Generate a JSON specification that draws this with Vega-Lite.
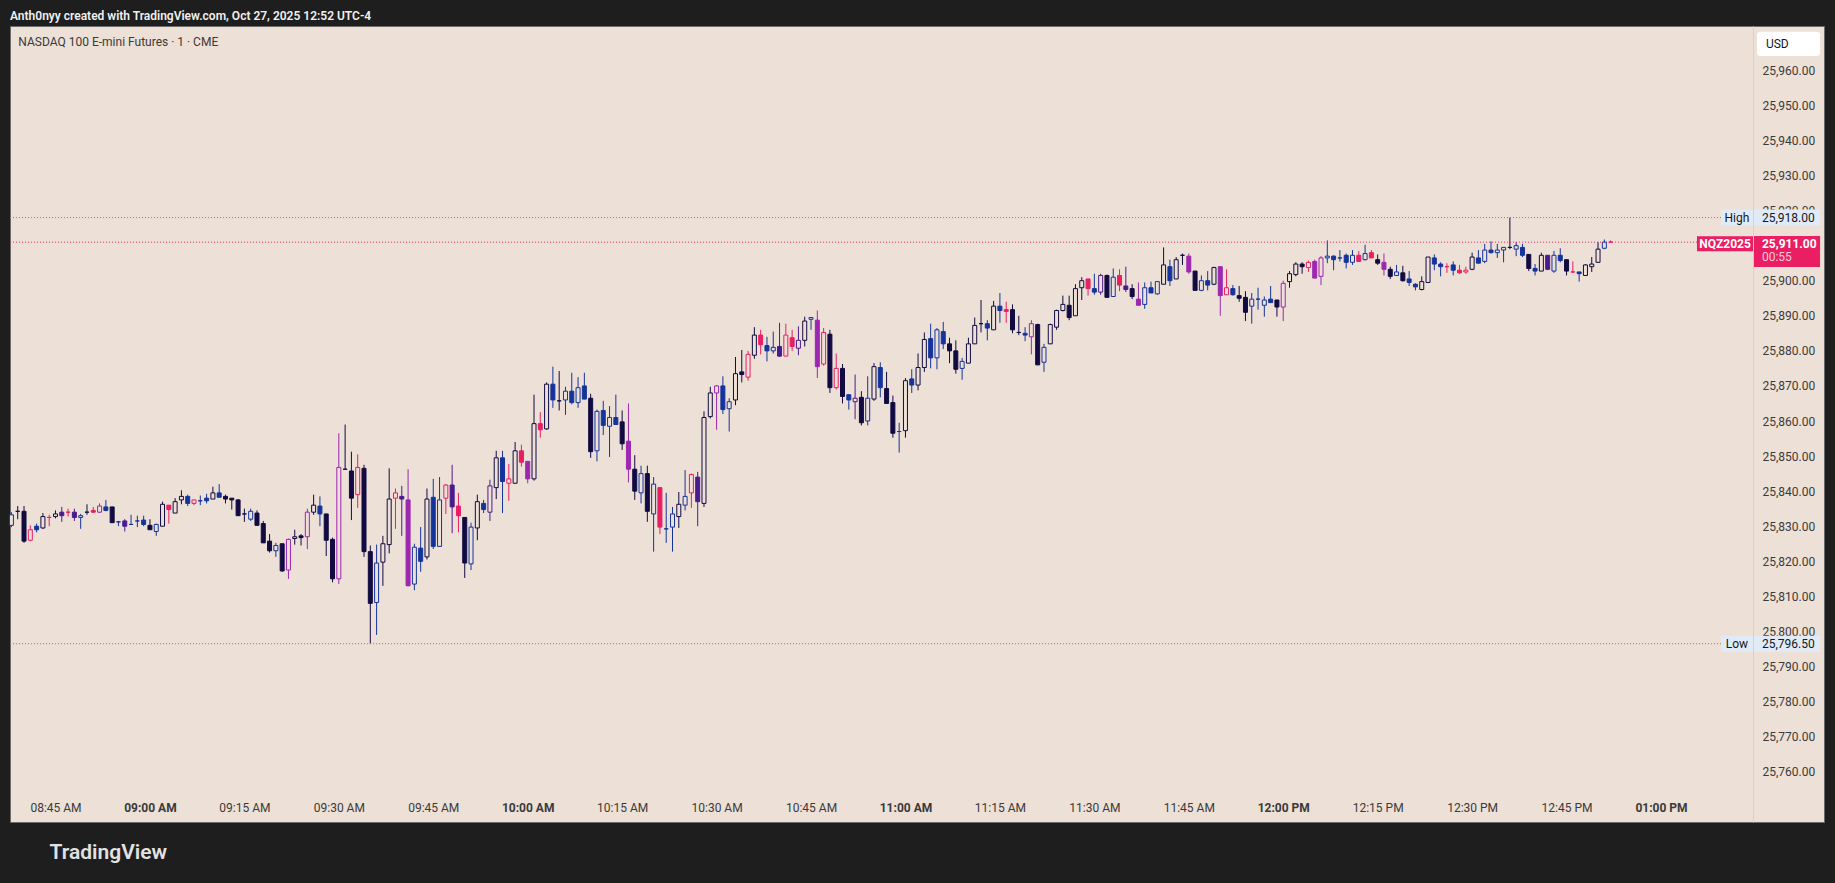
{
"$schema": "https://vega.github.io/schema/vega-lite/v6.json",
"width": 1814, "height": 796,
"autosize": {"type": "none"},
"padding": {"left": 10, "top": 26, "right": 11, "bottom": 61},
"background": "#1e1e1e",
"config": {"view": {"fill": "#EDE0D6", "stroke": "#6b6b6b", "strokeWidth": 1}, "font": "Roboto"},
"title": {"text": "Anth0nyy created with TradingView.com, Oct 27, 2025 12:52 UTC-4", "anchor": "start", "frame": "group", "orient": "top", "offset": 4, "dy": 5.5, "baseline": "middle", "color": "#f0f0f0", "fontSize": 12, "fontWeight": 600, "font": "Roboto"},
"resolve": {"axis": {"x": "independent", "y": "independent"}},
"datasets": {
"bars": [
{"t":"2025-10-27T08:38Z","o":25830.25,"h":25834,"l":25829.75,"c":25833.25,"k":"b"},
{"t":"2025-10-27T08:39Z","o":25834.25,"h":25835.75,"l":25832,"c":25834.25,"k":"n"},
{"t":"2025-10-27T08:40Z","o":25834.25,"h":25835.75,"l":25825.25,"c":25825.75,"k":"n"},
{"t":"2025-10-27T08:41Z","o":25826,"h":25830.25,"l":25825.75,"c":25829,"k":"r"},
{"t":"2025-10-27T08:42Z","o":25830,"h":25830.75,"l":25828.25,"c":25829,"k":"b"},
{"t":"2025-10-27T08:43Z","o":25829.5,"h":25833.75,"l":25829.25,"c":25832.75,"k":"n"},
{"t":"2025-10-27T08:44Z","o":25832.5,"h":25833.25,"l":25830,"c":25832.5,"k":"r"},
{"t":"2025-10-27T08:45Z","o":25832.75,"h":25834.5,"l":25832.25,"c":25833.5,"k":"n"},
{"t":"2025-10-27T08:46Z","o":25834,"h":25835.5,"l":25831.25,"c":25833,"k":"v"},
{"t":"2025-10-27T08:47Z","o":25834,"h":25835,"l":25832.75,"c":25834,"k":"r"},
{"t":"2025-10-27T08:48Z","o":25834,"h":25835,"l":25831.5,"c":25832.5,"k":"v"},
{"t":"2025-10-27T08:49Z","o":25832.5,"h":25833.5,"l":25829.25,"c":25833,"k":"b"},
{"t":"2025-10-27T08:50Z","o":25834,"h":25836.25,"l":25833.25,"c":25834,"k":"n"},
{"t":"2025-10-27T08:51Z","o":25834.5,"h":25835.5,"l":25833.75,"c":25834,"k":"r"},
{"t":"2025-10-27T08:52Z","o":25834,"h":25836.5,"l":25833.75,"c":25835.75,"k":"p"},
{"t":"2025-10-27T08:53Z","o":25835.5,"h":25837.5,"l":25834.25,"c":25834.5,"k":"b"},
{"t":"2025-10-27T08:54Z","o":25835.5,"h":25835.5,"l":25831,"c":25831,"k":"n"},
{"t":"2025-10-27T08:55Z","o":25831.25,"h":25831.5,"l":25830,"c":25831.25,"k":"b"},
{"t":"2025-10-27T08:56Z","o":25831.5,"h":25832,"l":25828.5,"c":25830,"k":"v"},
{"t":"2025-10-27T08:57Z","o":25830.5,"h":25833.25,"l":25830.5,"c":25830.5,"k":"b"},
{"t":"2025-10-27T08:58Z","o":25831.5,"h":25833,"l":25829.75,"c":25831.5,"k":"b"},
{"t":"2025-10-27T08:59Z","o":25831.75,"h":25833,"l":25830,"c":25830.5,"k":"b"},
{"t":"2025-10-27T09:00Z","o":25830.25,"h":25832,"l":25829,"c":25829,"k":"n"},
{"t":"2025-10-27T09:01Z","o":25828.5,"h":25830.75,"l":25827.25,"c":25830.5,"k":"b"},
{"t":"2025-10-27T09:02Z","o":25830,"h":25837,"l":25830,"c":25836.25,"k":"n"},
{"t":"2025-10-27T09:03Z","o":25836,"h":25836,"l":25830.75,"c":25834.75,"k":"r"},
{"t":"2025-10-27T09:04Z","o":25833.75,"h":25838,"l":25833.75,"c":25837,"k":"n"},
{"t":"2025-10-27T09:05Z","o":25837.5,"h":25840.25,"l":25836.25,"c":25838.5,"k":"n"},
{"t":"2025-10-27T09:06Z","o":25838.5,"h":25839,"l":25835.75,"c":25836.5,"k":"b"},
{"t":"2025-10-27T09:07Z","o":25836.5,"h":25837.5,"l":25836,"c":25837.5,"k":"r"},
{"t":"2025-10-27T09:08Z","o":25837.25,"h":25838.75,"l":25836,"c":25837.25,"k":"b"},
{"t":"2025-10-27T09:09Z","o":25838,"h":25839.25,"l":25836.5,"c":25837.25,"k":"b"},
{"t":"2025-10-27T09:10Z","o":25837.75,"h":25841.25,"l":25837.75,"c":25839.5,"k":"n"},
{"t":"2025-10-27T09:11Z","o":25839.5,"h":25842,"l":25838.25,"c":25838.25,"k":"b"},
{"t":"2025-10-27T09:12Z","o":25838.5,"h":25839,"l":25836.5,"c":25837.75,"k":"n"},
{"t":"2025-10-27T09:13Z","o":25838,"h":25838,"l":25834.75,"c":25837.5,"k":"n"},
{"t":"2025-10-27T09:14Z","o":25837.5,"h":25837.75,"l":25833,"c":25833,"k":"n"},
{"t":"2025-10-27T09:15Z","o":25833.5,"h":25835,"l":25831.25,"c":25833.5,"k":"n"},
{"t":"2025-10-27T09:16Z","o":25832,"h":25835,"l":25831.5,"c":25834.25,"k":"b"},
{"t":"2025-10-27T09:17Z","o":25833.75,"h":25834.5,"l":25830.25,"c":25830.25,"k":"n"},
{"t":"2025-10-27T09:18Z","o":25830.75,"h":25831.5,"l":25825.25,"c":25825.25,"k":"n"},
{"t":"2025-10-27T09:19Z","o":25825.75,"h":25827.75,"l":25822.5,"c":25823,"k":"n"},
{"t":"2025-10-27T09:20Z","o":25823,"h":25825.25,"l":25821.25,"c":25824.5,"k":"b"},
{"t":"2025-10-27T09:21Z","o":25825,"h":25825,"l":25817,"c":25817.25,"k":"n"},
{"t":"2025-10-27T09:22Z","o":25817.5,"h":25826.5,"l":25815,"c":25826.25,"k":"p"},
{"t":"2025-10-27T09:23Z","o":25826.5,"h":25829,"l":25824.75,"c":25827,"k":"n"},
{"t":"2025-10-27T09:24Z","o":25827.25,"h":25827.75,"l":25824.5,"c":25826.75,"k":"n"},
{"t":"2025-10-27T09:25Z","o":25827,"h":25835,"l":25823.5,"c":25834,"k":"p"},
{"t":"2025-10-27T09:26Z","o":25834,"h":25839,"l":25833.25,"c":25836,"k":"n"},
{"t":"2025-10-27T09:27Z","o":25835.75,"h":25838.5,"l":25830,"c":25833.5,"k":"b"},
{"t":"2025-10-27T09:28Z","o":25833.5,"h":25833.5,"l":25821.5,"c":25826,"k":"n"},
{"t":"2025-10-27T09:29Z","o":25826.25,"h":25826.75,"l":25814,"c":25815,"k":"n"},
{"t":"2025-10-27T09:30Z","o":25815,"h":25856.5,"l":25813.5,"c":25846.75,"k":"p"},
{"t":"2025-10-27T09:31Z","o":25846.25,"h":25859,"l":25846.25,"c":25846.25,"k":"n"},
{"t":"2025-10-27T09:32Z","o":25845.75,"h":25851.25,"l":25831.75,"c":25838,"k":"n"},
{"t":"2025-10-27T09:33Z","o":25839,"h":25850.5,"l":25835.25,"c":25846.75,"k":"r"},
{"t":"2025-10-27T09:34Z","o":25846.5,"h":25847.5,"l":25821.25,"c":25822.75,"k":"n"},
{"t":"2025-10-27T09:35Z","o":25822.75,"h":25824.5,"l":25796.5,"c":25808,"k":"n"},
{"t":"2025-10-27T09:36Z","o":25808.25,"h":25824.75,"l":25799,"c":25819.5,"k":"b"},
{"t":"2025-10-27T09:37Z","o":25819.75,"h":25827.25,"l":25813,"c":25825,"k":"n"},
{"t":"2025-10-27T09:38Z","o":25824.75,"h":25846.5,"l":25822.25,"c":25837.75,"k":"n"},
{"t":"2025-10-27T09:39Z","o":25838,"h":25840.75,"l":25829.25,"c":25839.5,"k":"r"},
{"t":"2025-10-27T09:40Z","o":25838.5,"h":25841.5,"l":25827.25,"c":25837.75,"k":"v"},
{"t":"2025-10-27T09:41Z","o":25837.5,"h":25846.25,"l":25813,"c":25813,"k":"p"},
{"t":"2025-10-27T09:42Z","o":25813.5,"h":25825,"l":25811.75,"c":25824,"k":"b"},
{"t":"2025-10-27T09:43Z","o":25823.75,"h":25829.75,"l":25817,"c":25820,"k":"b"},
{"t":"2025-10-27T09:44Z","o":25821.25,"h":25840.75,"l":25820.5,"c":25837.75,"k":"n"},
{"t":"2025-10-27T09:45Z","o":25838.25,"h":25843.5,"l":25823.5,"c":25824.25,"k":"b"},
{"t":"2025-10-27T09:46Z","o":25824.25,"h":25844,"l":25824.25,"c":25837.5,"k":"b"},
{"t":"2025-10-27T09:47Z","o":25838,"h":25842,"l":25833.5,"c":25841.75,"k":"r"},
{"t":"2025-10-27T09:48Z","o":25841.75,"h":25847.5,"l":25828,"c":25835.5,"k":"v"},
{"t":"2025-10-27T09:49Z","o":25835.75,"h":25839.5,"l":25828.25,"c":25833,"k":"r"},
{"t":"2025-10-27T09:50Z","o":25832.5,"h":25832.5,"l":25815.25,"c":25819.5,"k":"n"},
{"t":"2025-10-27T09:51Z","o":25819.25,"h":25831,"l":25817.5,"c":25829.75,"k":"b"},
{"t":"2025-10-27T09:52Z","o":25829.5,"h":25839,"l":25826,"c":25837,"k":"n"},
{"t":"2025-10-27T09:53Z","o":25836.5,"h":25837.5,"l":25833.75,"c":25834.75,"k":"b"},
{"t":"2025-10-27T09:54Z","o":25834,"h":25843.25,"l":25831.5,"c":25841.5,"k":"v"},
{"t":"2025-10-27T09:55Z","o":25841,"h":25851.5,"l":25837.75,"c":25849.5,"k":"n"},
{"t":"2025-10-27T09:56Z","o":25849.5,"h":25851.5,"l":25833.75,"c":25842.75,"k":"b"},
{"t":"2025-10-27T09:57Z","o":25842.25,"h":25847.75,"l":25837.25,"c":25843.5,"k":"r"},
{"t":"2025-10-27T09:58Z","o":25842.25,"h":25854,"l":25842.25,"c":25851.5,"k":"n"},
{"t":"2025-10-27T09:59Z","o":25851.5,"h":25853.25,"l":25847,"c":25848.25,"k":"r"},
{"t":"2025-10-27T10:00Z","o":25848.5,"h":25848.5,"l":25842.25,"c":25843.5,"k":"p"},
{"t":"2025-10-27T10:01Z","o":25843.5,"h":25867.5,"l":25843,"c":25859.25,"k":"n"},
{"t":"2025-10-27T10:02Z","o":25859.25,"h":25862.5,"l":25855.25,"c":25857.5,"k":"r"},
{"t":"2025-10-27T10:03Z","o":25857.75,"h":25871,"l":25857.5,"c":25870.5,"k":"n"},
{"t":"2025-10-27T10:04Z","o":25870.5,"h":25875.5,"l":25863.75,"c":25866,"k":"b"},
{"t":"2025-10-27T10:05Z","o":25865.75,"h":25874.25,"l":25863,"c":25865.75,"k":"n"},
{"t":"2025-10-27T10:06Z","o":25866,"h":25869.75,"l":25861.75,"c":25868.5,"k":"b"},
{"t":"2025-10-27T10:07Z","o":25868.5,"h":25873.75,"l":25864.75,"c":25865.25,"k":"b"},
{"t":"2025-10-27T10:08Z","o":25865.25,"h":25872.5,"l":25863.75,"c":25869.5,"k":"b"},
{"t":"2025-10-27T10:09Z","o":25870,"h":25873.75,"l":25866.25,"c":25866.25,"k":"b"},
{"t":"2025-10-27T10:10Z","o":25866.5,"h":25867.75,"l":25849.5,"c":25851.25,"k":"n"},
{"t":"2025-10-27T10:11Z","o":25851.5,"h":25863.25,"l":25848.5,"c":25862.75,"k":"b"},
{"t":"2025-10-27T10:12Z","o":25863,"h":25865.75,"l":25856,"c":25858.75,"k":"b"},
{"t":"2025-10-27T10:13Z","o":25858.5,"h":25864.25,"l":25849.75,"c":25861,"k":"b"},
{"t":"2025-10-27T10:14Z","o":25861,"h":25867.5,"l":25859,"c":25859,"k":"b"},
{"t":"2025-10-27T10:15Z","o":25859.75,"h":25863,"l":25851.75,"c":25853.5,"k":"n"},
{"t":"2025-10-27T10:16Z","o":25854.25,"h":25865,"l":25842.5,"c":25846.25,"k":"p"},
{"t":"2025-10-27T10:17Z","o":25846.25,"h":25850.25,"l":25837.5,"c":25840,"k":"n"},
{"t":"2025-10-27T10:18Z","o":25839.5,"h":25847.25,"l":25836.5,"c":25845,"k":"b"},
{"t":"2025-10-27T10:19Z","o":25845,"h":25847.25,"l":25831.25,"c":25834.25,"k":"n"},
{"t":"2025-10-27T10:20Z","o":25833.5,"h":25844,"l":25822.75,"c":25842,"k":"b"},
{"t":"2025-10-27T10:21Z","o":25841,"h":25841,"l":25827.75,"c":25829.75,"k":"r"},
{"t":"2025-10-27T10:22Z","o":25829.25,"h":25839.5,"l":25825.25,"c":25829.25,"k":"b"},
{"t":"2025-10-27T10:23Z","o":25829.75,"h":25835.5,"l":25822.75,"c":25833.5,"k":"b"},
{"t":"2025-10-27T10:24Z","o":25832.75,"h":25839.75,"l":25829.5,"c":25836.25,"k":"n"},
{"t":"2025-10-27T10:25Z","o":25836,"h":25846,"l":25834.5,"c":25838.5,"k":"b"},
{"t":"2025-10-27T10:26Z","o":25839.5,"h":25845,"l":25835.25,"c":25844.75,"k":"r"},
{"t":"2025-10-27T10:27Z","o":25844,"h":25845.5,"l":25830,"c":25837,"k":"v"},
{"t":"2025-10-27T10:28Z","o":25836.5,"h":25862.75,"l":25835.5,"c":25861,"k":"n"},
{"t":"2025-10-27T10:29Z","o":25861.25,"h":25869.75,"l":25860.75,"c":25868,"k":"n"},
{"t":"2025-10-27T10:30Z","o":25868,"h":25870.25,"l":25857.5,"c":25870,"k":"p"},
{"t":"2025-10-27T10:31Z","o":25870,"h":25872.75,"l":25862,"c":25863.25,"k":"b"},
{"t":"2025-10-27T10:32Z","o":25863.5,"h":25866.5,"l":25857,"c":25865.5,"k":"b"},
{"t":"2025-10-27T10:33Z","o":25866,"h":25878.25,"l":25864.5,"c":25873.5,"k":"n"},
{"t":"2025-10-27T10:34Z","o":25874,"h":25880.25,"l":25871,"c":25873.25,"k":"n"},
{"t":"2025-10-27T10:35Z","o":25872.5,"h":25880,"l":25871.5,"c":25879,"k":"r"},
{"t":"2025-10-27T10:36Z","o":25878.75,"h":25886.75,"l":25877.75,"c":25884.5,"k":"n"},
{"t":"2025-10-27T10:37Z","o":25884.5,"h":25886,"l":25879,"c":25881.75,"k":"r"},
{"t":"2025-10-27T10:38Z","o":25881.5,"h":25884,"l":25877,"c":25880,"k":"b"},
{"t":"2025-10-27T10:39Z","o":25880,"h":25885.5,"l":25879.25,"c":25881,"k":"b"},
{"t":"2025-10-27T10:40Z","o":25881.25,"h":25888,"l":25878.25,"c":25878.5,"k":"v"},
{"t":"2025-10-27T10:41Z","o":25878.5,"h":25887.75,"l":25878.5,"c":25884.5,"k":"r"},
{"t":"2025-10-27T10:42Z","o":25883.75,"h":25886,"l":25880,"c":25881.25,"k":"r"},
{"t":"2025-10-27T10:43Z","o":25880.75,"h":25887,"l":25878.75,"c":25883,"k":"v"},
{"t":"2025-10-27T10:44Z","o":25883,"h":25889.75,"l":25881.25,"c":25888.5,"k":"n"},
{"t":"2025-10-27T10:45Z","o":25889,"h":25889.5,"l":25886,"c":25889.5,"k":"b"},
{"t":"2025-10-27T10:46Z","o":25888.75,"h":25891.5,"l":25872.25,"c":25875.5,"k":"p"},
{"t":"2025-10-27T10:47Z","o":25876.25,"h":25886.5,"l":25875.75,"c":25885.25,"k":"r"},
{"t":"2025-10-27T10:48Z","o":25884.75,"h":25886,"l":25868,"c":25869.5,"k":"n"},
{"t":"2025-10-27T10:49Z","o":25869.5,"h":25879.25,"l":25869,"c":25875,"k":"r"},
{"t":"2025-10-27T10:50Z","o":25875,"h":25876.25,"l":25865,"c":25867,"k":"n"},
{"t":"2025-10-27T10:51Z","o":25867.5,"h":25867.5,"l":25863.25,"c":25866,"k":"b"},
{"t":"2025-10-27T10:52Z","o":25865.5,"h":25873.25,"l":25860.5,"c":25866.5,"k":"v"},
{"t":"2025-10-27T10:53Z","o":25866.75,"h":25868.5,"l":25858.75,"c":25859.5,"k":"n"},
{"t":"2025-10-27T10:54Z","o":25860,"h":25872.75,"l":25858.75,"c":25866.5,"k":"b"},
{"t":"2025-10-27T10:55Z","o":25866.25,"h":25876.5,"l":25865.75,"c":25875.5,"k":"n"},
{"t":"2025-10-27T10:56Z","o":25875.25,"h":25876.75,"l":25866.75,"c":25869.5,"k":"b"},
{"t":"2025-10-27T10:57Z","o":25869.25,"h":25874,"l":25865,"c":25865,"k":"n"},
{"t":"2025-10-27T10:58Z","o":25865.25,"h":25867.25,"l":25855.25,"c":25856.5,"k":"n"},
{"t":"2025-10-27T10:59Z","o":25857,"h":25859.5,"l":25851,"c":25857,"k":"b"},
{"t":"2025-10-27T11:00Z","o":25857.25,"h":25872.25,"l":25855.25,"c":25871.5,"k":"n"},
{"t":"2025-10-27T11:01Z","o":25872,"h":25874.75,"l":25868,"c":25870.25,"k":"b"},
{"t":"2025-10-27T11:02Z","o":25870.25,"h":25879.25,"l":25868.75,"c":25875.25,"k":"n"},
{"t":"2025-10-27T11:03Z","o":25875.25,"h":25885.25,"l":25874,"c":25883.25,"k":"n"},
{"t":"2025-10-27T11:04Z","o":25883.5,"h":25887.75,"l":25875,"c":25878,"k":"b"},
{"t":"2025-10-27T11:05Z","o":25878,"h":25886.5,"l":25874.75,"c":25886,"k":"b"},
{"t":"2025-10-27T11:06Z","o":25885.5,"h":25888.25,"l":25880.5,"c":25882,"k":"b"},
{"t":"2025-10-27T11:07Z","o":25882,"h":25883.75,"l":25876.5,"c":25880,"k":"n"},
{"t":"2025-10-27T11:08Z","o":25880,"h":25883,"l":25873.5,"c":25874.75,"k":"n"},
{"t":"2025-10-27T11:09Z","o":25875,"h":25878,"l":25871.75,"c":25877,"k":"b"},
{"t":"2025-10-27T11:10Z","o":25876.5,"h":25883.75,"l":25876.5,"c":25882,"k":"n"},
{"t":"2025-10-27T11:11Z","o":25882,"h":25889.5,"l":25882,"c":25887.25,"k":"n"},
{"t":"2025-10-27T11:12Z","o":25887.75,"h":25894.5,"l":25885.25,"c":25887.75,"k":"n"},
{"t":"2025-10-27T11:13Z","o":25887.75,"h":25888.75,"l":25883,"c":25886.5,"k":"b"},
{"t":"2025-10-27T11:14Z","o":25886,"h":25894.25,"l":25886,"c":25892.75,"k":"n"},
{"t":"2025-10-27T11:15Z","o":25892.75,"h":25896.5,"l":25888,"c":25891.5,"k":"b"},
{"t":"2025-10-27T11:16Z","o":25891.75,"h":25894,"l":25888,"c":25891.25,"k":"r"},
{"t":"2025-10-27T11:17Z","o":25891.75,"h":25893.25,"l":25885,"c":25886,"k":"n"},
{"t":"2025-10-27T11:18Z","o":25885.25,"h":25890,"l":25884.5,"c":25885.25,"k":"n"},
{"t":"2025-10-27T11:19Z","o":25885,"h":25886.75,"l":25882.75,"c":25884.5,"k":"b"},
{"t":"2025-10-27T11:20Z","o":25884,"h":25888.75,"l":25879,"c":25887.75,"k":"p"},
{"t":"2025-10-27T11:21Z","o":25887.5,"h":25887.75,"l":25876,"c":25876,"k":"n"},
{"t":"2025-10-27T11:22Z","o":25876.75,"h":25882,"l":25874,"c":25881,"k":"b"},
{"t":"2025-10-27T11:23Z","o":25882,"h":25887.75,"l":25882,"c":25887.5,"k":"n"},
{"t":"2025-10-27T11:24Z","o":25886.75,"h":25891.75,"l":25886,"c":25891.5,"k":"n"},
{"t":"2025-10-27T11:25Z","o":25891.5,"h":25895.75,"l":25891.25,"c":25893.25,"k":"n"},
{"t":"2025-10-27T11:26Z","o":25893,"h":25895.75,"l":25888.75,"c":25889.5,"k":"n"},
{"t":"2025-10-27T11:27Z","o":25890,"h":25899,"l":25890,"c":25897.75,"k":"n"},
{"t":"2025-10-27T11:28Z","o":25898,"h":25901,"l":25894.5,"c":25900,"k":"n"},
{"t":"2025-10-27T11:29Z","o":25900.5,"h":25900.5,"l":25895.75,"c":25897.75,"k":"r"},
{"t":"2025-10-27T11:30Z","o":25897.75,"h":25902,"l":25896,"c":25896.75,"k":"b"},
{"t":"2025-10-27T11:31Z","o":25896.75,"h":25902,"l":25896,"c":25901.5,"k":"v"},
{"t":"2025-10-27T11:32Z","o":25901.5,"h":25901.75,"l":25895.25,"c":25895.25,"k":"n"},
{"t":"2025-10-27T11:33Z","o":25895.5,"h":25903.5,"l":25895.5,"c":25901,"k":"b"},
{"t":"2025-10-27T11:34Z","o":25901.5,"h":25903.25,"l":25897,"c":25898.75,"k":"r"},
{"t":"2025-10-27T11:35Z","o":25898.5,"h":25904,"l":25896.75,"c":25897.5,"k":"v"},
{"t":"2025-10-27T11:36Z","o":25897.75,"h":25899,"l":25894.75,"c":25895.5,"k":"n"},
{"t":"2025-10-27T11:37Z","o":25894.75,"h":25899.5,"l":25893,"c":25893,"k":"p"},
{"t":"2025-10-27T11:38Z","o":25893.25,"h":25899.5,"l":25892,"c":25898,"k":"b"},
{"t":"2025-10-27T11:39Z","o":25898,"h":25899.75,"l":25896.5,"c":25896.5,"k":"b"},
{"t":"2025-10-27T11:40Z","o":25896.25,"h":25899.75,"l":25896,"c":25899.75,"k":"b"},
{"t":"2025-10-27T11:41Z","o":25899,"h":25909.5,"l":25899,"c":25904.5,"k":"n"},
{"t":"2025-10-27T11:42Z","o":25904,"h":25906,"l":25898.5,"c":25900,"k":"b"},
{"t":"2025-10-27T11:43Z","o":25900.5,"h":25906.75,"l":25900.5,"c":25906,"k":"n"},
{"t":"2025-10-27T11:44Z","o":25907.25,"h":25907.75,"l":25904.5,"c":25907.25,"k":"n"},
{"t":"2025-10-27T11:45Z","o":25907,"h":25907.75,"l":25902,"c":25902.5,"k":"p"},
{"t":"2025-10-27T11:46Z","o":25902.75,"h":25902.75,"l":25897.25,"c":25897.25,"k":"n"},
{"t":"2025-10-27T11:47Z","o":25897.25,"h":25901.5,"l":25897,"c":25900,"k":"b"},
{"t":"2025-10-27T11:48Z","o":25900,"h":25902.75,"l":25897.25,"c":25898.75,"k":"b"},
{"t":"2025-10-27T11:49Z","o":25899,"h":25904,"l":25898.75,"c":25903.75,"k":"n"},
{"t":"2025-10-27T11:50Z","o":25904,"h":25904,"l":25890,"c":25895.75,"k":"p"},
{"t":"2025-10-27T11:51Z","o":25896,"h":25903.25,"l":25896,"c":25898,"k":"r"},
{"t":"2025-10-27T11:52Z","o":25897.75,"h":25898.75,"l":25895.75,"c":25896,"k":"b"},
{"t":"2025-10-27T11:53Z","o":25895.75,"h":25898.5,"l":25894,"c":25895,"k":"n"},
{"t":"2025-10-27T11:54Z","o":25895.25,"h":25897,"l":25888.5,"c":25891,"k":"n"},
{"t":"2025-10-27T11:55Z","o":25892.75,"h":25896.5,"l":25887.75,"c":25894.75,"k":"b"},
{"t":"2025-10-27T11:56Z","o":25894.75,"h":25898,"l":25891.75,"c":25894.75,"k":"b"},
{"t":"2025-10-27T11:57Z","o":25893,"h":25895.5,"l":25889.75,"c":25894.5,"k":"b"},
{"t":"2025-10-27T11:58Z","o":25894.75,"h":25898.5,"l":25893.75,"c":25893.75,"k":"b"},
{"t":"2025-10-27T11:59Z","o":25894.5,"h":25894.5,"l":25889.75,"c":25892.5,"k":"n"},
{"t":"2025-10-27T12:00Z","o":25892.5,"h":25900,"l":25888.5,"c":25899.25,"k":"p"},
{"t":"2025-10-27T12:01Z","o":25899.75,"h":25902.75,"l":25898,"c":25902,"k":"n"},
{"t":"2025-10-27T12:02Z","o":25901.75,"h":25905.25,"l":25901.25,"c":25904.75,"k":"n"},
{"t":"2025-10-27T12:03Z","o":25904.75,"h":25905.25,"l":25902,"c":25904,"k":"n"},
{"t":"2025-10-27T12:04Z","o":25903.75,"h":25905.75,"l":25902.5,"c":25905.25,"k":"r"},
{"t":"2025-10-27T12:05Z","o":25905.5,"h":25906,"l":25900.75,"c":25900.75,"k":"p"},
{"t":"2025-10-27T12:06Z","o":25901.25,"h":25907,"l":25898.75,"c":25906.5,"k":"p"},
{"t":"2025-10-27T12:07Z","o":25906.5,"h":25911.5,"l":25905,"c":25907,"k":"b"},
{"t":"2025-10-27T12:08Z","o":25907,"h":25907.25,"l":25903,"c":25906,"k":"b"},
{"t":"2025-10-27T12:09Z","o":25906.5,"h":25908.75,"l":25905.5,"c":25906.5,"k":"b"},
{"t":"2025-10-27T12:10Z","o":25907.25,"h":25907.75,"l":25903.5,"c":25905.25,"k":"b"},
{"t":"2025-10-27T12:11Z","o":25905.25,"h":25908.75,"l":25904.5,"c":25907.25,"k":"b"},
{"t":"2025-10-27T12:12Z","o":25907.25,"h":25908.5,"l":25905.5,"c":25905.5,"k":"r"},
{"t":"2025-10-27T12:13Z","o":25906,"h":25910.25,"l":25905.75,"c":25907.75,"k":"b"},
{"t":"2025-10-27T12:14Z","o":25908,"h":25908.75,"l":25906.5,"c":25906.5,"k":"r"},
{"t":"2025-10-27T12:15Z","o":25906,"h":25907.5,"l":25904.5,"c":25905,"k":"n"},
{"t":"2025-10-27T12:16Z","o":25905.25,"h":25907.75,"l":25901.5,"c":25903.25,"k":"p"},
{"t":"2025-10-27T12:17Z","o":25903.25,"h":25904,"l":25900.5,"c":25901.25,"k":"n"},
{"t":"2025-10-27T12:18Z","o":25901.5,"h":25904.5,"l":25901.5,"c":25902.5,"k":"b"},
{"t":"2025-10-27T12:19Z","o":25902.25,"h":25904.25,"l":25899.75,"c":25900,"k":"n"},
{"t":"2025-10-27T12:20Z","o":25900.5,"h":25902.75,"l":25898.5,"c":25899.5,"k":"b"},
{"t":"2025-10-27T12:21Z","o":25899,"h":25899.25,"l":25897.25,"c":25898.25,"k":"b"},
{"t":"2025-10-27T12:22Z","o":25897.5,"h":25901.25,"l":25897.25,"c":25899.75,"k":"n"},
{"t":"2025-10-27T12:23Z","o":25899.5,"h":25906.75,"l":25899.5,"c":25906.75,"k":"n"},
{"t":"2025-10-27T12:24Z","o":25906.5,"h":25907.5,"l":25903,"c":25904.75,"k":"b"},
{"t":"2025-10-27T12:25Z","o":25904.75,"h":25905.25,"l":25901.25,"c":25904,"k":"b"},
{"t":"2025-10-27T12:26Z","o":25904,"h":25905,"l":25902.25,"c":25904,"k":"r"},
{"t":"2025-10-27T12:27Z","o":25904.5,"h":25905.5,"l":25901.5,"c":25903,"k":"b"},
{"t":"2025-10-27T12:28Z","o":25903,"h":25904.5,"l":25902,"c":25902.25,"k":"r"},
{"t":"2025-10-27T12:29Z","o":25902.5,"h":25904,"l":25902,"c":25903,"k":"r"},
{"t":"2025-10-27T12:30Z","o":25903.25,"h":25908,"l":25903,"c":25906.75,"k":"n"},
{"t":"2025-10-27T12:31Z","o":25906.5,"h":25908.75,"l":25905,"c":25905,"k":"b"},
{"t":"2025-10-27T12:32Z","o":25905.5,"h":25910.5,"l":25905,"c":25908.75,"k":"b"},
{"t":"2025-10-27T12:33Z","o":25908.75,"h":25911.25,"l":25907.75,"c":25908,"k":"b"},
{"t":"2025-10-27T12:34Z","o":25908,"h":25910.5,"l":25906.5,"c":25908.75,"k":"b"},
{"t":"2025-10-27T12:35Z","o":25908.75,"h":25909.5,"l":25905.25,"c":25909.5,"k":"b"},
{"t":"2025-10-27T12:36Z","o":25909.5,"h":25918,"l":25909,"c":25909.5,"k":"n"},
{"t":"2025-10-27T12:37Z","o":25909,"h":25911,"l":25907,"c":25910,"k":"b"},
{"t":"2025-10-27T12:38Z","o":25909.5,"h":25910.5,"l":25906.75,"c":25907.25,"k":"b"},
{"t":"2025-10-27T12:39Z","o":25907.5,"h":25907.5,"l":25902.75,"c":25903.5,"k":"n"},
{"t":"2025-10-27T12:40Z","o":25903.5,"h":25904.75,"l":25901.5,"c":25902.75,"k":"b"},
{"t":"2025-10-27T12:41Z","o":25902.75,"h":25908,"l":25902.75,"c":25907.25,"k":"n"},
{"t":"2025-10-27T12:42Z","o":25907.25,"h":25907.25,"l":25903,"c":25903.25,"k":"v"},
{"t":"2025-10-27T12:43Z","o":25902.75,"h":25908.5,"l":25902.25,"c":25907.25,"k":"b"},
{"t":"2025-10-27T12:44Z","o":25907.25,"h":25909.25,"l":25905.25,"c":25905.75,"k":"b"},
{"t":"2025-10-27T12:45Z","o":25906,"h":25906,"l":25901.5,"c":25902.75,"k":"n"},
{"t":"2025-10-27T12:46Z","o":25902.5,"h":25905.5,"l":25902.25,"c":25902.5,"k":"r"},
{"t":"2025-10-27T12:47Z","o":25902.5,"h":25902.5,"l":25899.75,"c":25902,"k":"b"},
{"t":"2025-10-27T12:48Z","o":25901.5,"h":25904.75,"l":25901.5,"c":25904.5,"k":"n"},
{"t":"2025-10-27T12:49Z","o":25904,"h":25906.75,"l":25902.5,"c":25904.75,"k":"n"},
{"t":"2025-10-27T12:50Z","o":25905.25,"h":25911,"l":25905.25,"c":25909,"k":"n"},
{"t":"2025-10-27T12:51Z","o":25909.25,"h":25911.75,"l":25909,"c":25911,"k":"b"},
{"t":"2025-10-27T12:52Z","o":25911,"h":25911.5,"l":25911,"c":25911,"k":"r"}
],
"tags": [
{"k":"High","p":25918,"v":"25,918.00"},
{"k":"Low","p":25796.5,"v":"25,796.50"},
{"k":"NQZ2025","p":25911,"v":"25,911.00","s":"00:55"}
],
"notes": [{"txt":"NASDAQ 100 E-mini Futures · 1 · CME","u":"USD"}]
},
"layer": [
{
 "data": {"name": "bars"},
 "mark": {"type": "rule", "strokeWidth": 1},
 "encoding": {
  "x": {"field": "t", "type": "temporal",
   "scale": {"type": "utc", "padding": 0, "domain": [{"year":2025,"month":10,"date":27,"hours":8,"minutes":37,"seconds":46,"milliseconds":400,"utc":true},{"year":2025,"month":10,"date":27,"hours":13,"minutes":25,"seconds":53,"milliseconds":400,"utc":true}]},
   "axis": {"orient": "bottom", "offset": -27,
    "labelExpr": "utcFormat(datum.value, '%I:%M %p')",
    "values": [
     {"year":2025,"month":10,"date":27,"hours":8,"minutes":45,"utc":true},
     {"year":2025,"month":10,"date":27,"hours":9,"minutes":0,"utc":true},
     {"year":2025,"month":10,"date":27,"hours":9,"minutes":15,"utc":true},
     {"year":2025,"month":10,"date":27,"hours":9,"minutes":30,"utc":true},
     {"year":2025,"month":10,"date":27,"hours":9,"minutes":45,"utc":true},
     {"year":2025,"month":10,"date":27,"hours":10,"minutes":0,"utc":true},
     {"year":2025,"month":10,"date":27,"hours":10,"minutes":15,"utc":true},
     {"year":2025,"month":10,"date":27,"hours":10,"minutes":30,"utc":true},
     {"year":2025,"month":10,"date":27,"hours":10,"minutes":45,"utc":true},
     {"year":2025,"month":10,"date":27,"hours":11,"minutes":0,"utc":true},
     {"year":2025,"month":10,"date":27,"hours":11,"minutes":15,"utc":true},
     {"year":2025,"month":10,"date":27,"hours":11,"minutes":30,"utc":true},
     {"year":2025,"month":10,"date":27,"hours":11,"minutes":45,"utc":true},
     {"year":2025,"month":10,"date":27,"hours":12,"minutes":0,"utc":true},
     {"year":2025,"month":10,"date":27,"hours":12,"minutes":15,"utc":true},
     {"year":2025,"month":10,"date":27,"hours":12,"minutes":30,"utc":true},
     {"year":2025,"month":10,"date":27,"hours":12,"minutes":45,"utc":true},
     {"year":2025,"month":10,"date":27,"hours":13,"minutes":0,"utc":true}
    ],
    "ticks": false, "domain": false, "grid": false, "labelFlush": false, "labelOverlap": false,
    "labelFont": "Roboto", "labelFontSize": 12, "labelColor": "#3a3a3a", "labelPadding": 7,
    "labelFontWeight": {"condition": {"test": "utcminutes(datum.value) === 0", "value": "bold"}, "value": "normal"},
    "title": "TradingView", "titleFont": "Roboto", "titleFontSize": 21, "titleFontWeight": 600, "titleColor": "#e2e2e2",
    "titleAnchor": "start", "titleAlign": "left", "titleBaseline": "middle", "titleX": 39, "titleY": 57}},
  "y": {"field": "l", "type": "quantitative",
   "scale": {"domain": [25745.66, 25972.63], "zero": false, "nice": false, "padding": 0},
   "axis": {"orient": "right", "offset": -71, "title": null, "format": ",.2f",
    "values": [25760,25770,25780,25790,25800,25810,25820,25830,25840,25850,25860,25870,25880,25890,25900,25910,25920,25930,25940,25950,25960],
    "ticks": false, "domain": true, "domainColor": "#dccfc4", "grid": false, "labelPadding": 9,
    "labelFont": "Roboto", "labelFontSize": 12, "labelColor": "#3a3a3a", "labelAlign": "left", "labelBaseline": "middle",
    "labelFlush": false, "labelOverlap": false}},
  "y2": {"field": "h"},
  "color": {"field": "k", "type": "nominal", "legend": null,
   "scale": {"domain": ["n","b","v","p","r"], "range": ["#110b42","#14349c","#4b1a8f","#9c27b0","#e91e63"]}}
 }
},
{
 "data": {"name": "tags"},
 "transform": [{"filter": "datum.k !== 'NQZ2025'"}],
 "mark": {"type": "rule", "color": "#7d7d7d", "strokeWidth": 1, "strokeDash": [1, 2]},
 "encoding": {
  "x": {"datum": {"year":2025,"month":10,"date":27,"hours":8,"minutes":37,"seconds":47,"utc":true}, "type": "temporal", "axis": null},
  "x2": {"datum": {"year":2025,"month":10,"date":27,"hours":13,"minutes":9,"seconds":32,"utc":true}},
  "y": {"field": "p", "type": "quantitative", "axis": null}
 }
},
{
 "data": {"name": "tags"},
 "transform": [{"filter": "datum.k === 'NQZ2025'"}],
 "mark": {"type": "rule", "color": "#e91e63", "strokeWidth": 1, "strokeDash": [1, 2]},
 "encoding": {
  "x": {"datum": {"year":2025,"month":10,"date":27,"hours":8,"minutes":37,"seconds":47,"utc":true}, "type": "temporal", "axis": null},
  "x2": {"datum": {"year":2025,"month":10,"date":27,"hours":13,"minutes":5,"seconds":43,"utc":true}},
  "y": {"field": "p", "type": "quantitative", "axis": null}
 }
},
{
 "data": {"name": "bars"},
 "mark": {"type": "bar", "width": 4, "strokeWidth": 1},
 "encoding": {
  "x": {"field": "t", "type": "temporal", "axis": null},
  "y": {"field": "o", "type": "quantitative", "axis": null},
  "y2": {"field": "c"},
  "fill": {"condition": {"test": "datum.c > datum.o", "value": "#EDE0D6"}, "field": "k", "type": "nominal", "legend": null,
   "scale": {"domain": ["n","b","v","p","r"], "range": ["#110b42","#14349c","#4b1a8f","#9c27b0","#e91e63"]}},
  "stroke": {"field": "k", "type": "nominal", "legend": null,
   "scale": {"domain": ["n","b","v","p","r"], "range": ["#110b42","#14349c","#4b1a8f","#9c27b0","#e91e63"]}}
 }
},
{
 "data": {"name": "notes"},
 "mark": {"type": "text", "align": "left", "baseline": "middle", "fontSize": 12, "color": "#3a3a3a", "font": "Roboto"},
 "encoding": {
  "x": {"datum": {"year":2025,"month":10,"date":27,"hours":8,"minutes":39,"seconds":6,"utc":true}, "type": "temporal", "axis": null},
  "y": {"datum": 25968, "type": "quantitative", "axis": null},
  "text": {"field": "txt"}
 }
},
{
 "data": {"name": "notes"},
 "mark": {"type": "bar", "color": "#ffffff", "cornerRadius": 3},
 "encoding": {
  "x": {"datum": {"year":2025,"month":10,"date":27,"hours":13,"minutes":15,"seconds":15,"utc":true}, "type": "temporal", "axis": null},
  "x2": {"datum": {"year":2025,"month":10,"date":27,"hours":13,"minutes":25,"seconds":16,"utc":true}},
  "y": {"datum": 25971.0, "type": "quantitative", "axis": null},
  "y2": {"datum": 25964.1}
 }
},
{
 "data": {"name": "notes"},
 "mark": {"type": "text", "align": "left", "baseline": "middle", "fontSize": 12, "color": "#131722", "font": "Roboto"},
 "encoding": {
  "x": {"datum": {"year":2025,"month":10,"date":27,"hours":13,"minutes":16,"seconds":40,"utc":true}, "type": "temporal", "axis": null},
  "y": {"datum": 25967.5, "type": "quantitative", "axis": null},
  "text": {"field": "u"}
 }
},
{
 "data": {"name": "tags"},
 "transform": [{"filter": "datum.k !== 'NQZ2025'"}],
 "mark": {"type": "bar", "height": 16, "color": "#e1ebf7"},
 "encoding": {
  "x": {"datum": {"year":2025,"month":10,"date":27,"hours":13,"minutes":9,"seconds":32,"utc":true}, "type": "temporal", "axis": null},
  "x2": {"datum": {"year":2025,"month":10,"date":27,"hours":13,"minutes":14,"seconds":37,"utc":true}},
  "y": {"field": "p", "type": "quantitative", "axis": null}
 }
},
{
 "data": {"name": "tags"},
 "transform": [{"filter": "datum.k !== 'NQZ2025'"}],
 "mark": {"type": "bar", "height": 16, "color": "#e1ebf7"},
 "encoding": {
  "x": {"datum": {"year":2025,"month":10,"date":27,"hours":13,"minutes":14,"seconds":46,"utc":true}, "type": "temporal", "axis": null},
  "x2": {"datum": {"year":2025,"month":10,"date":27,"hours":13,"minutes":25,"seconds":16,"utc":true}},
  "y": {"field": "p", "type": "quantitative", "axis": null}
 }
},
{
 "data": {"name": "tags"},
 "transform": [{"filter": "datum.k !== 'NQZ2025'"}],
 "mark": {"type": "text", "align": "center", "baseline": "middle", "fontSize": 12, "color": "#131722", "font": "Roboto"},
 "encoding": {
  "x": {"datum": {"year":2025,"month":10,"date":27,"hours":13,"minutes":12,"seconds":4,"utc":true}, "type": "temporal", "axis": null},
  "y": {"field": "p", "type": "quantitative", "axis": null},
  "text": {"field": "k"}
 }
},
{
 "data": {"name": "tags"},
 "transform": [{"filter": "datum.k !== 'NQZ2025'"}],
 "mark": {"type": "text", "align": "left", "baseline": "middle", "fontSize": 12, "color": "#131722", "font": "Roboto"},
 "encoding": {
  "x": {"datum": {"year":2025,"month":10,"date":27,"hours":13,"minutes":16,"seconds":2,"utc":true}, "type": "temporal", "axis": null},
  "y": {"field": "p", "type": "quantitative", "axis": null},
  "text": {"field": "v"}
 }
},
{
 "data": {"name": "tags"},
 "transform": [{"filter": "datum.k === 'NQZ2025'"}],
 "mark": {"type": "bar", "height": 15, "yOffset": 1.5, "color": "#e91e63"},
 "encoding": {
  "x": {"datum": {"year":2025,"month":10,"date":27,"hours":13,"minutes":5,"seconds":43,"utc":true}, "type": "temporal", "axis": null},
  "x2": {"datum": {"year":2025,"month":10,"date":27,"hours":13,"minutes":14,"seconds":37,"utc":true}},
  "y": {"field": "p", "type": "quantitative", "axis": null}
 }
},
{
 "data": {"name": "tags"},
 "transform": [{"filter": "datum.k === 'NQZ2025'"}],
 "mark": {"type": "bar", "height": 31, "yOffset": 9.3, "color": "#e91e63"},
 "encoding": {
  "x": {"datum": {"year":2025,"month":10,"date":27,"hours":13,"minutes":14,"seconds":46,"utc":true}, "type": "temporal", "axis": null},
  "x2": {"datum": {"year":2025,"month":10,"date":27,"hours":13,"minutes":25,"seconds":16,"utc":true}},
  "y": {"field": "p", "type": "quantitative", "axis": null}
 }
},
{
 "data": {"name": "tags"},
 "transform": [{"filter": "datum.k === 'NQZ2025'"}],
 "mark": {"type": "text", "align": "center", "baseline": "middle", "dy": 1.5, "fontSize": 12, "fontWeight": "bold", "color": "#ffffff", "font": "Roboto"},
 "encoding": {
  "x": {"datum": {"year":2025,"month":10,"date":27,"hours":13,"minutes":10,"seconds":10,"utc":true}, "type": "temporal", "axis": null},
  "y": {"field": "p", "type": "quantitative", "axis": null},
  "text": {"field": "k"}
 }
},
{
 "data": {"name": "tags"},
 "transform": [{"filter": "datum.k === 'NQZ2025'"}],
 "mark": {"type": "text", "align": "left", "baseline": "middle", "dy": 2, "fontSize": 12, "fontWeight": "bold", "color": "#ffffff", "font": "Roboto"},
 "encoding": {
  "x": {"datum": {"year":2025,"month":10,"date":27,"hours":13,"minutes":16,"seconds":2,"utc":true}, "type": "temporal", "axis": null},
  "y": {"field": "p", "type": "quantitative", "axis": null},
  "text": {"field": "v"}
 }
},
{
 "data": {"name": "tags"},
 "transform": [{"filter": "datum.k === 'NQZ2025'"}],
 "mark": {"type": "text", "align": "left", "baseline": "middle", "dy": 15, "fontSize": 12, "color": "#fbc9da", "font": "Roboto"},
 "encoding": {
  "x": {"datum": {"year":2025,"month":10,"date":27,"hours":13,"minutes":16,"seconds":2,"utc":true}, "type": "temporal", "axis": null},
  "y": {"field": "p", "type": "quantitative", "axis": null},
  "text": {"field": "s"}
 }
}
]
}
